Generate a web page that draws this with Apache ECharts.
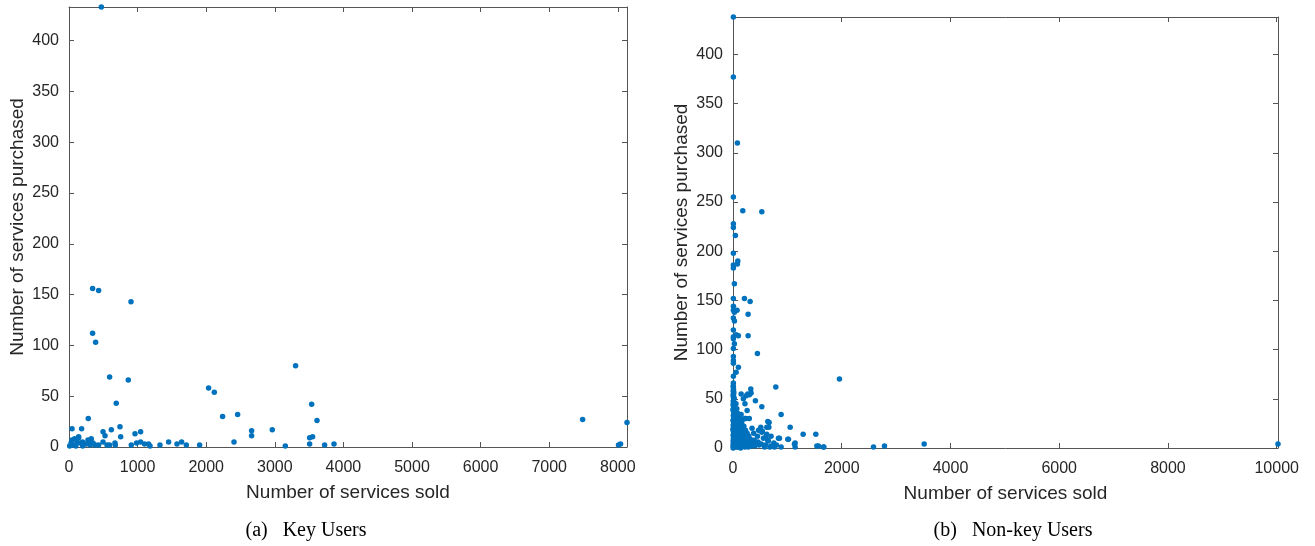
<!DOCTYPE html>
<html>
<head>
<meta charset="utf-8">
<script src="https://cdn.jsdelivr.net/npm/echarts@6/dist/echarts.min.js"></script>
<style>html,body{margin:0;padding:0;background:#fff;}#c{width:1315px;height:546px;}</style>
</head>
<body>
<div id="c"></div>
<script>
// ---- Data: (a) Key Users ----
const keyX = [471,344,432,904,344,388,592,864,689,281,44,184,
  2035,2118,2239,2458,2662,2662,2963,2405,3153,3303,3537,3615,3508,3551,3508,3726,3863,
  743,617,496,525,753,962,1044,
  1326,1452,1574,1642,1710,1904,
  908,985,1044,1102,1160,1181,
  44,82,140,117,63,165,199,277,325,296,252,310,383,432,496,554,592,670,675,140,10,30,100,200,350,
  7487,8010,8040,8134];
const keyY = [433,156,154,143,112,103,69,66,43,28,18,18,
  58,54,30,32,16,11,17,5,1,80,42,26,9,10,3,2,3,
  20,17,15,11,10,13,15,
  2,5,3,5,2,2,
  2,4,5,3,3,1,
  7,8,9,5,2,4,5,7,8,5,3,2,2,2,5,2,2,4,2,10,1,4,1,1,4,
  27,2,3,24];

// ---- Data: (b) Non-key Users ----
const nonKeyX = [7,7,7,7,7,7,7,7,7,7,7,7,7,7,7,7,7,7,7,7,7,7,
  81,180,530,44,88,81,26,210,315,75,26,278,26,57,99,278,26,99,57,449,1958,787,272,327,241,412,530,885,664,149,180,1051,1290,1523,854,1020,511,622,1143,1143,1572,1664,2584,2786,3516,10024,762,885,
  640,659,530,603,640,836,1008,1130,1542,1670,333,302,236,222,
  3,12,5,20,8,15,2,25,10,4,18,30,6,14,22,2,9,27,16,4,35,11,24,1,19,7,40,13,28,3,21,45,8,33,15,2,50,25,10,38,5,60,18,30,1,45,12,70,22,3,
  55,70,48,90,62,110,80,130,95,58,120,75,140,100,65,150,85,115,55,135,95,70,125,105,145,80,115,60,135,90,150,110,75,140,
  160,200,230,175,260,210,290,180,240,320,170,270,210,340,190,300,250,170,330,220,280,360,390,420,450,480,380,350,300,260,220,190,150,
  400,460,520,560,600,650,700,750,800,620,700,540,470,580,680,
  4,9,14,3,18,6,11,2,23,8,13,5,16,30,40,28,36,20,45,52,65,24,33];
const nonKeyY = [438,377,255,228,224,198,186,183,152,144,140,132,120,113,111,101,93,89,86,73,66,62,
  310,241,240,216,190,187,167,152,149,140,138,136,129,115,114,114,106,82,77,96,70,62,55,60,53,48,42,34,26,34,29,21,14,14,10,9,21,21,5,1,2,1,1,2,4,4,1,1,
  27,21,16,11,8,10,9,4,2,1,56,54,30,30,
  58,55,52,50,48,46,44,42,40,38,36,35,33,31,30,28,27,26,24,23,22,21,20,19,18,17,16,15,14,13,12,11,10,9,8,7,7,6,5,5,4,4,3,3,2,2,1,1,1,0,
  45,40,37,35,32,30,28,27,25,23,22,20,19,18,16,15,14,13,12,11,10,9,8,7,6,5,4,3,3,2,2,1,1,0,
  25,22,18,16,15,13,12,11,10,9,8,7,6,6,5,4,3,2,2,1,1,3,8,5,12,3,15,20,30,38,45,50,55,
  2,6,4,10,3,7,2,5,3,14,12,17,18,1,1,
  63,60,57,54,51,47,43,39,34,29,25,19,9,6,14,22,3,31,11,17,8,2,41];

// ---- Axis settings ----
const keyXMax = 8134, keyXStep = 1000, keyYMax = 433, keyYStep = 50;
const nonXMax = 10024, nonXStep = 2000, nonYMax = 438, nonYStep = 50;
const xTitle = 'Number of services sold';
const yTitle = 'Number of services purchased';
const captionA = '(a)\u2002 Key Users';
const captionB = '(b)\u2002 Non-key Users';

const pairs = (xs, ys) => xs.map((x, i) => [x, ys[i]]);

const FONT = "'Liberation Sans', Arial, Helvetica, sans-serif";
const TXT = '#262626';
const LINE = '#555';

function xAxes(grid, max, step, gap) {
  const fmt = v => (v % step === 0 ? String(v) : '');
  return [
    { type: 'value', gridIndex: grid, min: 0, max: max, interval: step, position: 'bottom',
      name: xTitle, nameLocation: 'middle', nameGap: gap,
      nameTextStyle: { fontFamily: FONT, fontSize: 19, color: TXT },
      axisLine: { onZero: false, lineStyle: { color: LINE, width: 1 } },
      axisTick: { inside: true, length: 5, lineStyle: { color: LINE } },
      axisLabel: { fontFamily: FONT, fontSize: 16, color: TXT, margin: 13, formatter: fmt },
      splitLine: { show: false } },
    { type: 'value', gridIndex: grid, min: 0, max: max, interval: step, position: 'top',
      axisLine: { onZero: false, lineStyle: { color: LINE, width: 1 } },
      axisTick: { inside: true, length: 5, lineStyle: { color: LINE } },
      axisLabel: { show: false }, splitLine: { show: false } }
  ];
}
function yAxes(grid, max, step, gap) {
  const fmt = v => (v % step === 0 ? String(v) : '');
  return [
    { type: 'value', gridIndex: grid, min: 0, max: max, interval: step, position: 'left',
      name: yTitle, nameLocation: 'middle', nameGap: gap,
      nameTextStyle: { fontFamily: FONT, fontSize: 19, color: TXT },
      axisLine: { show: true, onZero: false, lineStyle: { color: LINE, width: 1 } },
      axisTick: { show: true, inside: true, length: 5, lineStyle: { color: LINE } },
      axisLabel: { fontFamily: FONT, fontSize: 16, color: TXT, margin: 10, formatter: fmt },
      splitLine: { show: false } },
    { type: 'value', gridIndex: grid, min: 0, max: max, interval: step, position: 'right',
      axisLine: { show: true, onZero: false, lineStyle: { color: LINE, width: 1 } },
      axisTick: { show: true, inside: true, length: 5, lineStyle: { color: LINE } },
      axisLabel: { show: false }, splitLine: { show: false } }
  ];
}

const chart = echarts.init(document.getElementById('c'), null, { renderer: 'canvas' });
chart.setOption({
  animation: false,
  backgroundColor: '#fff',
  grid: [
    { left: 69, top: 7, width: 558, height: 440 },
    { left: 733, top: 17, width: 545, height: 431 }
  ],
  xAxis: [...xAxes(0, keyXMax, keyXStep, 36), ...xAxes(1, nonXMax, nonXStep, 36)],
  yAxis: [...yAxes(0, keyYMax, keyYStep, 42), ...yAxes(1, nonYMax, nonYStep, 42)],
  series: [
    { type: 'scatter', xAxisIndex: 0, yAxisIndex: 0, data: pairs(keyX, keyY),
      symbolSize: 5.5, itemStyle: { color: '#0072BD', opacity: 1 } },
    { type: 'scatter', xAxisIndex: 2, yAxisIndex: 2, data: pairs(nonKeyX, nonKeyY),
      symbolSize: 5.5, itemStyle: { color: '#0072BD', opacity: 1 } }
  ],
  graphic: [
    { type: 'text', x: 306, y: 531, style: { text: captionA, x: 0, y: 0, align: 'center', verticalAlign: 'middle',
      font: "20px 'Liberation Serif', 'Times New Roman', serif", fill: '#000' } },
    { type: 'text', x: 1013, y: 531, style: { text: captionB, x: 0, y: 0, align: 'center', verticalAlign: 'middle',
      font: "20px 'Liberation Serif', 'Times New Roman', serif", fill: '#000' } }
  ]
});
</script>
</body>
</html>
